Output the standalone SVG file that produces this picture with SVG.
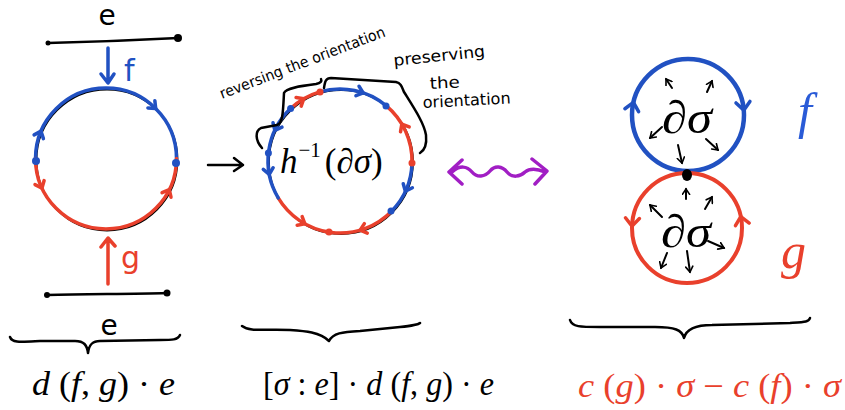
<svg xmlns="http://www.w3.org/2000/svg" xmlns:xlink="http://www.w3.org/1999/xlink" width="845" height="410" viewBox="0 0 845 410">
<style>
.k{fill:none;stroke:#000;stroke-width:2.5;stroke-linecap:round;stroke-linejoin:round}
.b{fill:none;stroke:#2151c2;stroke-width:3.5;stroke-linecap:round;stroke-linejoin:round}
.r{fill:none;stroke:#e9402c;stroke-width:3.5;stroke-linecap:round;stroke-linejoin:round}
.p{fill:none;stroke:#a11ec4;stroke-width:3.5;stroke-linecap:round;stroke-linejoin:round}
.bg{fill:none;stroke:#000;stroke-width:1.8}
.hw{font-family:"DejaVu Sans",sans-serif}
.m{font-family:"Liberation Serif","DejaVu Serif",serif}
.i{font-style:italic}
.sa{fill:none;stroke:#000;stroke-width:2;stroke-linecap:round}
</style>
<defs>
<path id="chev" d="M-5,-5 L1,0 L-5,5"/>
<path id="chevL" d="M-7,-7 L1,0 L-7,7"/>
<marker id="ah" viewBox="0 0 10 10" refX="7" refY="5" markerWidth="9" markerHeight="9" markerUnits="userSpaceOnUse" orient="auto">
<path d="M1,1 L7,5 L1,9" fill="none" stroke="#000" stroke-width="1.8" stroke-linecap="round"/>
</marker>
</defs>

<!-- left diagram -->
<g id="left-top-edge">
<text class="hw" x="107" y="25" font-size="28" text-anchor="middle">e</text>
<path class="k" d="M48,43 C90,42 140,40 178,38"/>
<circle cx="48" cy="43" r="2.5"/>
<circle cx="178" cy="38" r="4"/>
</g>
<g id="left-f-arrow">
<path class="b" d="M108,48 L108,82 M101,74 L108,83 L114,74" stroke-width="2.5"/>
<text class="hw" x="124" y="81" font-size="30" fill="#2151c2">f</text>
</g>
<g id="left-circle">
<circle class="bg" cx="107" cy="160" r="70.5"/>
<path class="b" d="M35.5,158.5 A70.5,70.5 0 0 1 176.5,158.5"/>
<path class="r" d="M176.5,158.5 A70.5,70.5 0 0 1 35.5,158.5"/>
<g class="b" stroke-width="3">
<use xlink:href="#chev" transform="translate(106,158.5) rotate(314) translate(70.5,0) rotate(90)"/>
<use xlink:href="#chev" transform="translate(106,158.5) rotate(202) translate(70.5,0) rotate(90)"/>
</g>
<g class="r" stroke-width="3">
<use xlink:href="#chev" transform="translate(106,158.5) rotate(156) translate(70.5,0) rotate(-90)"/>
<use xlink:href="#chev" transform="translate(106,158.5) rotate(27) translate(70.5,0) rotate(-90)"/>
</g>
<circle cx="36" cy="161" r="4" fill="#2151c2"/>
<circle cx="176" cy="163" r="4" fill="#2151c2"/>
</g>
<g id="left-g-arrow">
<path class="r" d="M108,284 L108,239 M101,247 L108,238 L115,246" stroke-width="2.5"/>
<text class="hw" x="121" y="268" font-size="30" fill="#e9402c">g</text>
</g>
<g id="left-bottom-edge">
<path class="k" d="M47,295 C90,294 130,294 167,293"/>
<circle cx="47" cy="295" r="3"/>
<circle cx="167" cy="293" r="3.5"/>
<text class="hw" x="109" y="335" font-size="28" text-anchor="middle">e</text>
</g>

<!-- middle diagram -->
<g id="middle-circle">
<circle class="bg" cx="341" cy="162" r="72"/>
<path class="b" d="M319.7,91.9 A72,72 0 0 1 386.1,105.7"/>
<path class="r" d="M386.1,105.7 A72,72 0 0 1 412,163"/>
<path class="b" d="M412,163 A72,72 0 0 1 391.4,211.4"/>
<path class="r" d="M391.4,211.4 A72,72 0 0 1 278.2,197.9"/>
<path class="b" d="M278.2,197.9 A72,72 0 0 1 290.6,108.6"/>
<path class="r" d="M290.6,108.6 A72,72 0 0 1 319.7,91.9"/>
<g class="r" stroke-width="3">
<use xlink:href="#chev" transform="translate(340,161) rotate(239) translate(72,0) rotate(90)"/>
<use xlink:href="#chev" transform="translate(340,161) rotate(330) translate(72,0) rotate(-90)"/>
<use xlink:href="#chev" transform="translate(340,161) rotate(73) translate(72,0) rotate(90)"/>
<use xlink:href="#chev" transform="translate(340,161) rotate(120) translate(72,0) rotate(-90)"/>
</g>
<g class="b" stroke-width="3">
<use xlink:href="#chev" transform="translate(340,161) rotate(288) translate(72,0) rotate(90)"/>
<use xlink:href="#chev" transform="translate(340,161) rotate(24) translate(72,0) rotate(90)"/>
<use xlink:href="#chev" transform="translate(340,161) rotate(170) translate(72,0) rotate(-90)"/>
<use xlink:href="#chev" transform="translate(340,161) rotate(206) translate(72,0) rotate(-90)"/>
</g>
<circle cx="320" cy="92" r="3.5" fill="#e9402c"/>
<circle cx="290.6" cy="108.6" r="3.5" fill="#2151c2"/>
<circle cx="268.4" cy="153.1" r="3.5" fill="#2151c2"/>
<circle cx="329" cy="232" r="3.5" fill="#e9402c"/>
<circle cx="391" cy="211" r="3.5" fill="#2151c2"/>
<circle cx="412" cy="163" r="3.5" fill="#e9402c"/>
<circle cx="386" cy="106" r="3.5" fill="#2151c2"/>
<text class="m" x="280" y="173" font-size="35"><tspan class="i">h</tspan><tspan font-size="21" dy="-16" dx="1">−1</tspan><tspan dy="16" dx="4">(∂</tspan><tspan class="i">σ</tspan>)</text>
</g>
<g id="reversing-label">
<path class="k" d="M262,148 C255,140 255,131 261,128 L277,125 C283,123 283,112 284,93 C286,88 300,86 316,84 C321,83 322,81 321,79"/>
<text class="hw" font-size="15" transform="translate(222,99) rotate(-21)" textLength="176" lengthAdjust="spacingAndGlyphs">reversing the orientation</text>
</g>
<g id="preserving-label">
<path class="k" d="M324,88 C325,81 326,78 331,78 L396,82 C401,83 402,87 404,92 C414,108 424,123 426,135 C427,145 425,150 420,153"/>
<text class="hw" font-size="16" transform="translate(394,66) rotate(-6)" textLength="92" lengthAdjust="spacingAndGlyphs">preserving</text>
<text class="hw" font-size="16" transform="translate(430,89) rotate(-3)" textLength="30" lengthAdjust="spacingAndGlyphs">the</text>
<text class="hw" font-size="16" transform="translate(423,108) rotate(-3)" textLength="88" lengthAdjust="spacingAndGlyphs">orientation</text>
</g>

<!-- right diagram -->
<g id="right-f-circle">
<circle cx="688" cy="115" r="56" fill="none" stroke="#2151c2" stroke-width="4.5"/>
<g class="b" stroke-width="4">
<use xlink:href="#chevL" transform="translate(688,115) rotate(192) translate(56,0) rotate(90)"/>
<use xlink:href="#chevL" transform="translate(688,115) rotate(354) translate(56,0) rotate(90)"/>
</g>
<text class="m" x="687" y="133" font-size="46" text-anchor="middle" textLength="50" lengthAdjust="spacingAndGlyphs">∂<tspan class="i">σ</tspan></text>
<g class="sa" marker-end="url(#ah)">
<path d="M672,88 L666,79"/>
<path d="M707,92 L712,81"/>
<path d="M662,127 L650,138"/>
<path d="M706,139 L718,150"/>
<path d="M678,145 L682,163"/>
</g>
<text class="m i" x="798" y="128" font-size="50" fill="#2a5bd7">f</text>
</g>
<g id="right-g-circle">
<circle cx="687" cy="228" r="55" fill="none" stroke="#e9402c" stroke-width="4"/>
<g class="r" stroke-width="4">
<use xlink:href="#chevL" transform="translate(687,228) rotate(183) translate(55,0) rotate(-90)"/>
<use xlink:href="#chevL" transform="translate(687,228) rotate(349) translate(55,0) rotate(-90)"/>
</g>
<text class="m" x="686" y="247" font-size="46" text-anchor="middle" textLength="50" lengthAdjust="spacingAndGlyphs">∂<tspan class="i">σ</tspan></text>
<g class="sa" marker-end="url(#ah)">
<path d="M686,199 L686,189"/>
<path d="M705,209 L712,197"/>
<path d="M662,217 L650,205"/>
<path d="M708,241 L724,248"/>
<path d="M667,253 L661,268"/>
<path d="M687,251 L690,272"/>
</g>
<text class="m i" x="781" y="268" font-size="50" fill="#e9402c">g</text>
</g>
<g id="junction">
<ellipse cx="687" cy="175" rx="5" ry="6"/>
</g>

<!-- connectors -->
<g id="connectors">
<path class="k" d="M208,165 L243,165 M234,158 L243,165 L234,171" stroke-width="2.2"/>
<path class="p" d="M462,160 L449,172 L462,184 M532,159 L547,171 L535,184 M452,172 C460,165 467,166 472,172 C477,178 485,177 490,171 C495,165 502,166 507,172 C512,178 520,177 525,172 C530,168 538,169 545,172"/>
</g>

<!-- bottom braces and labels -->
<g id="left-label">
<path class="k" d="M10,337 C12,343 20,342 40,341 L75,341 C84,341 87,345 88,353 C89,345 92,341 100,341 L160,340 C172,340 178,340 180,335"/>
<text class="m" x="32" y="395" font-size="33" textLength="143" lengthAdjust="spacingAndGlyphs"><tspan class="i">d</tspan> (<tspan class="i">f</tspan>, <tspan class="i">g</tspan>) · <tspan class="i">e</tspan></text>
</g>
<g id="middle-label">
<path class="k" d="M242,326 C250,332 262,329 290,330 C305,331 320,332 329,341 C333,333 342,332 360,331 L400,327 C410,326 418,325 420,323"/>
<text class="m" x="263" y="395" font-size="33" textLength="231" lengthAdjust="spacingAndGlyphs">[<tspan class="i">σ</tspan> : <tspan class="i">e</tspan>] · <tspan class="i">d</tspan> (<tspan class="i">f</tspan>, <tspan class="i">g</tspan>) · <tspan class="i">e</tspan></text>
</g>
<g id="right-label">
<path class="k" d="M570,320 C572,327 580,327 600,327 L655,327 C675,327 682,330 684,338 C686,330 695,325 712,325 L790,323 C805,322 809,322 810,318"/>
<text class="m" x="578" y="397" font-size="33" fill="#e9402c" textLength="263" lengthAdjust="spacingAndGlyphs"><tspan class="i">c</tspan> (<tspan class="i">g</tspan>) · <tspan class="i">σ</tspan> − <tspan class="i">c</tspan> (<tspan class="i">f</tspan>) · <tspan class="i">σ</tspan></text>
</g>
</svg>
